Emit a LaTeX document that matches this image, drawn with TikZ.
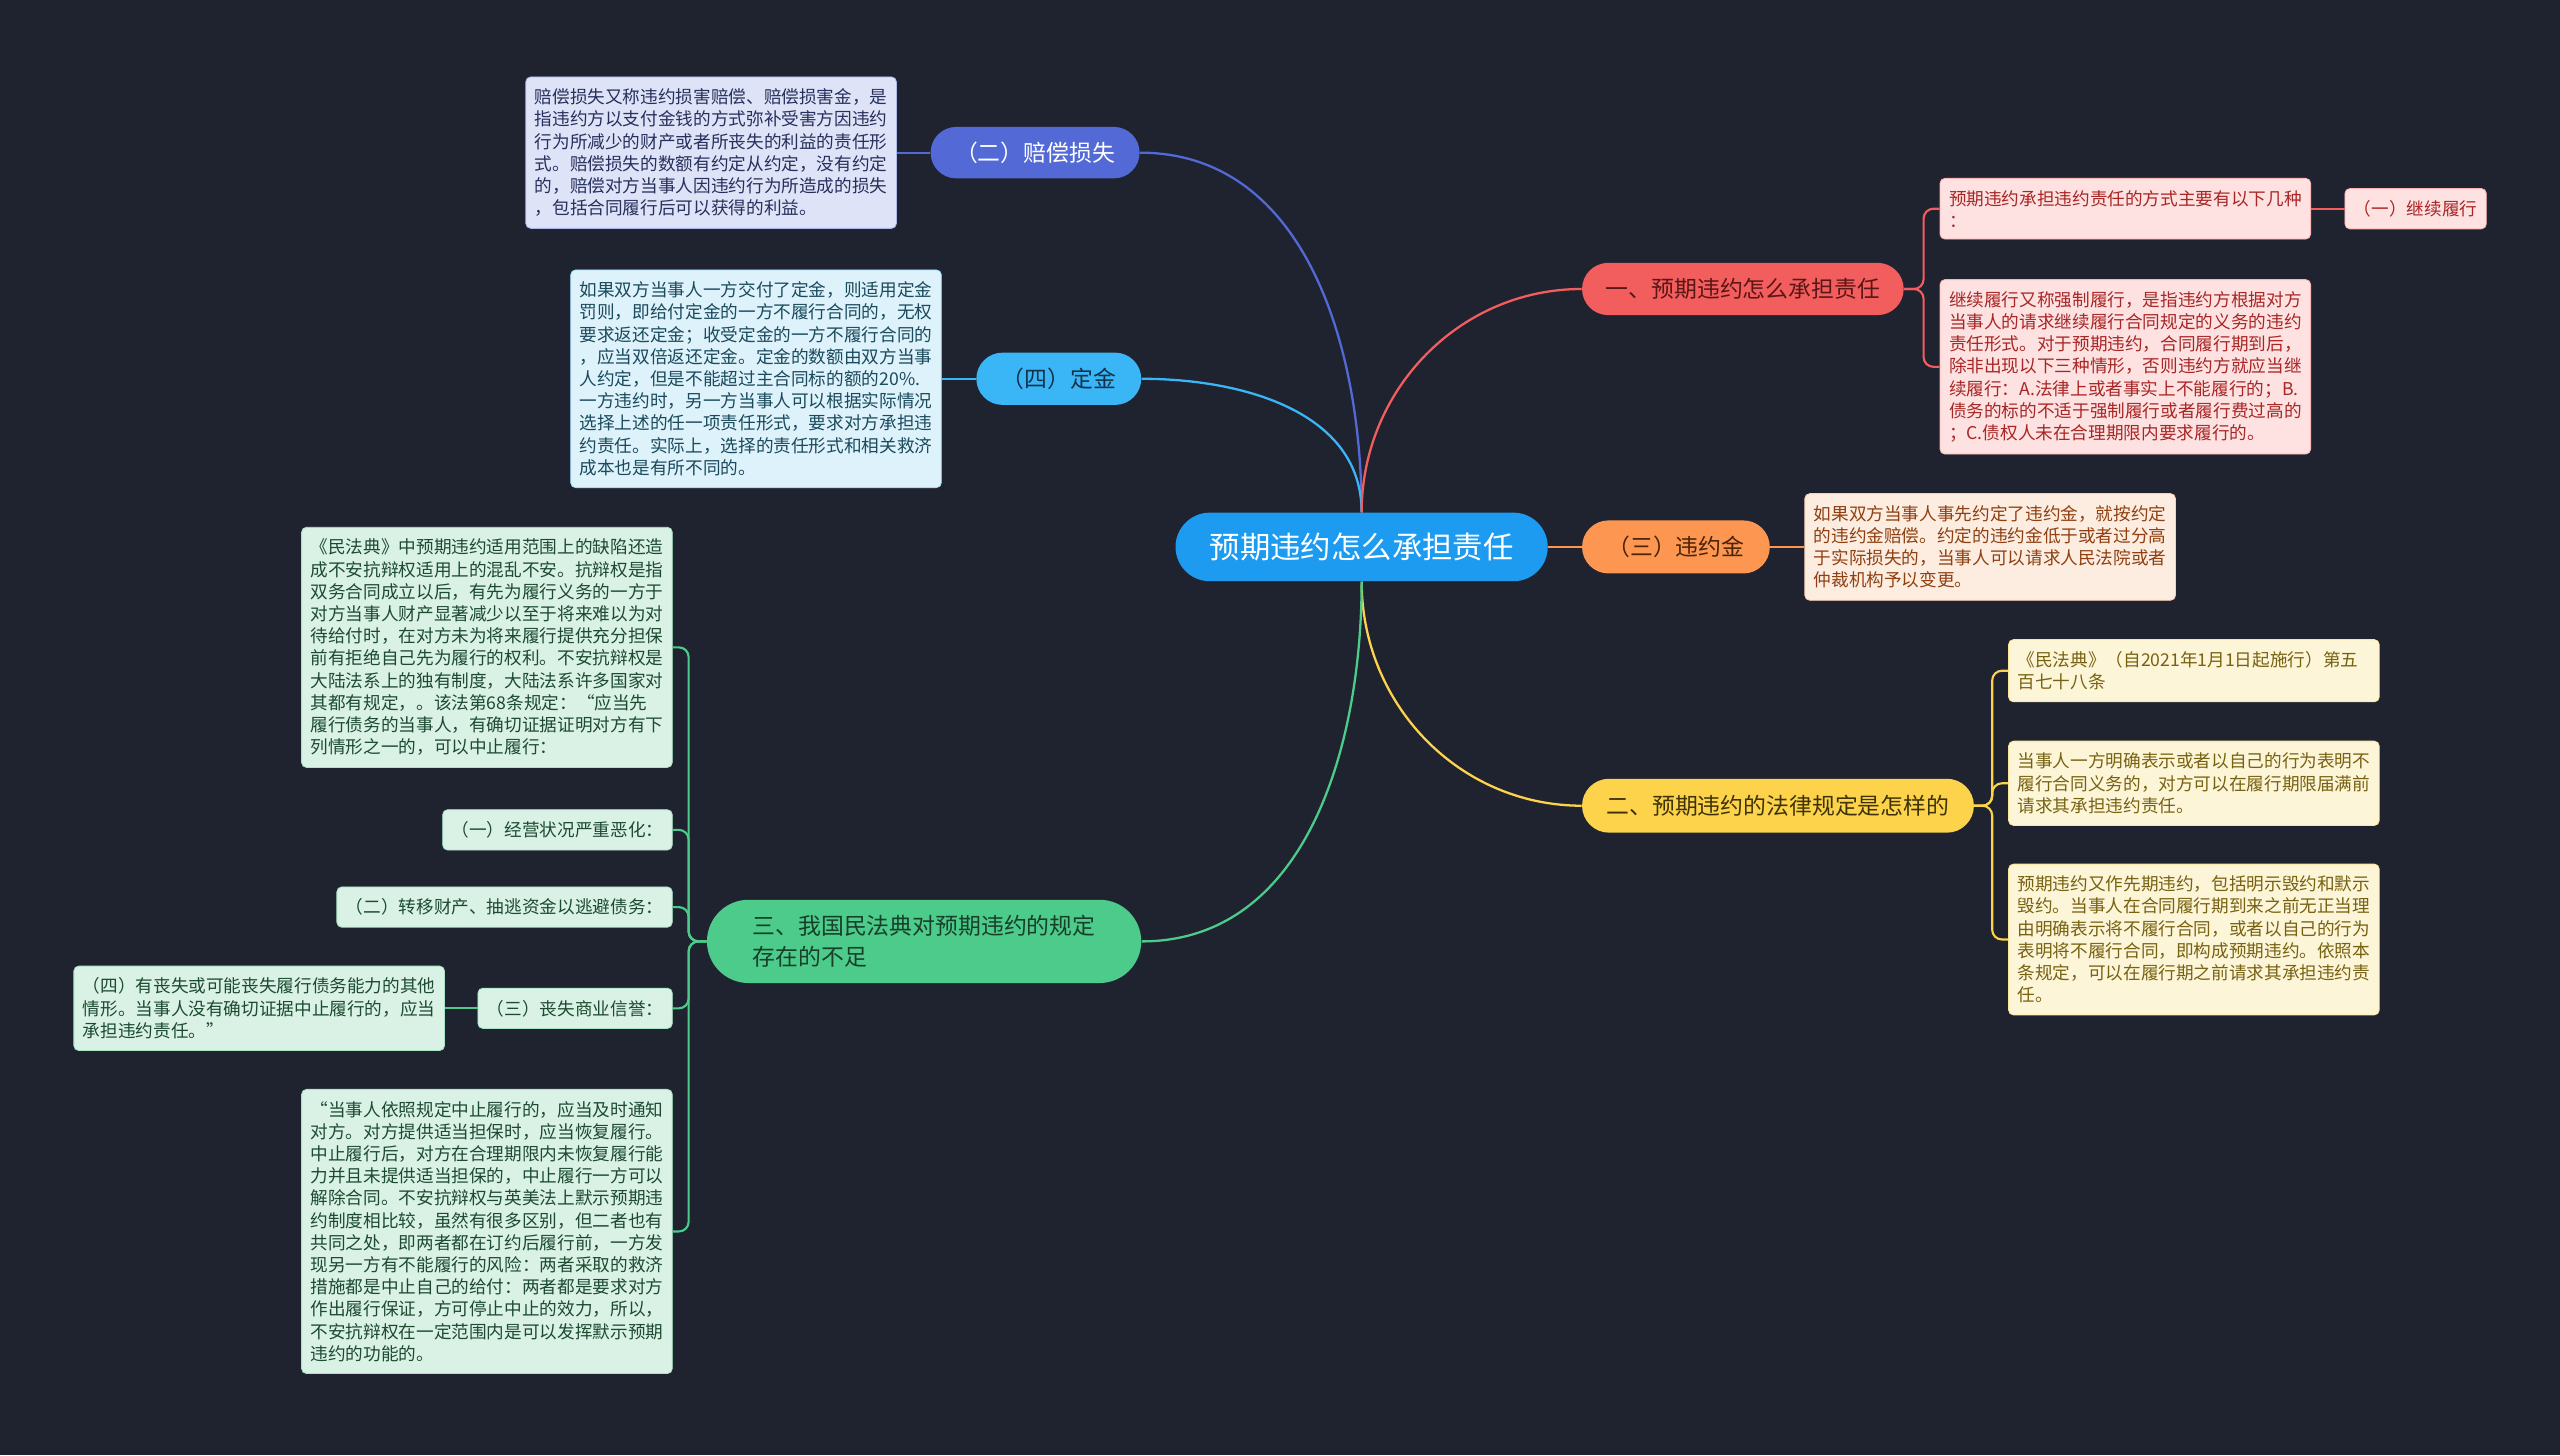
\documentclass[tikz,border=0pt]{standalone}
\usepackage{fontspec}
\setmainfont{Noto Sans CJK SC}
\usetikzlibrary{positioning}
\definecolor{canvas}{HTML}{1F2330}
\definecolor{rootblue}{HTML}{1D9BF0}
\definecolor{lossblue}{HTML}{5269D6}
\definecolor{losspale}{HTML}{DEE3F7}
\definecolor{lossink}{HTML}{27305C}
\definecolor{depositsky}{HTML}{3AB5F6}
\definecolor{depositpale}{HTML}{DDF2FB}
\definecolor{depositink}{HTML}{1A4A5C}
\definecolor{depositdark}{HTML}{12324A}
\definecolor{dutyred}{HTML}{F25E5E}
\definecolor{dutypale}{HTML}{FDE2E1}
\definecolor{dutyink}{HTML}{A82626}
\definecolor{dutydark}{HTML}{5A1515}
\definecolor{penaltyorange}{HTML}{FD9651}
\definecolor{penaltypale}{HTML}{FDEDE1}
\definecolor{penaltyink}{HTML}{8F3F10}
\definecolor{penaltydark}{HTML}{4A2308}
\definecolor{ruleyellow}{HTML}{FCD34B}
\definecolor{rulepale}{HTML}{FDF5D7}
\definecolor{ruleink}{HTML}{776212}
\definecolor{ruledark}{HTML}{3E3307}
\definecolor{gapgreen}{HTML}{4CCB8B}
\definecolor{gappale}{HTML}{D9F2E5}
\definecolor{gapink}{HTML}{1D4A31}
\definecolor{gapdark}{HTML}{173F29}
\tikzset{
  topic/.style={inner sep=0pt, align=center, font=\fontsize{14}{19.3}\selectfont},
  leaf/.style={rounded corners=3pt, inner xsep=5.5pt, inner ysep=7.2pt, align=left,
    line width=0.5pt, font=\fontsize{10.8}{13.6}\selectfont},
  note/.style={leaf, text width=216pt},
  lossleaf/.style={fill=losspale, draw=lossblue!35!losspale, text=lossink},
  depositleaf/.style={fill=depositpale, draw=depositsky!35!depositpale, text=depositink},
  dutyleaf/.style={fill=dutypale, draw=dutyred!35!dutypale, text=dutyink},
  penaltyleaf/.style={fill=penaltypale, draw=penaltyorange!35!penaltypale, text=penaltyink},
  ruleleaf/.style={fill=rulepale, draw=ruleyellow!45!rulepale, text=ruleink},
  gapleaf/.style={fill=gappale, draw=gapgreen!35!gappale, text=gapink},
  link/.style={line width=1.4pt},
  bracket/.style={line width=1.3pt, rounded corners=6pt}
}

\begin{document}
\begin{tikzpicture}[x=1pt,y=-1pt]
\fill[canvas] (0,0) rectangle (1568,891.2);
\useasboundingbox (0,0) rectangle (1568,891.2);

\node[topic, fill=rootblue, text=white, minimum width=228pt, minimum height=42pt,
  rounded corners=21pt, font=\fontsize{18.6}{22}\selectfont] (root) at (834,335) {预期违约怎么承担责任};

\node[topic, fill=lossblue, text=white, minimum width=128pt, minimum height=31.5pt,
  rounded corners=15.7pt] (damages) at (634,93.5) {（二）赔偿损失};
\node[note, lossleaf, left=20.5pt of damages] (damagesnote) {赔偿损失又称违约损害赔偿、赔偿损害金，是\\
指违约方以支付金钱的方式弥补受害方因违约\\
行为所减少的财产或者所丧失的利益的责任形\\
式。赔偿损失的数额有约定从约定，没有约定\\
的，赔偿对方当事人因违约行为所造成的损失\\
，包括合同履行后可以获得的利益。};

\node[topic, fill=depositsky, text=depositdark, minimum width=101pt, minimum height=32pt,
  rounded corners=16pt] (deposit) at (648.5,232) {（四）定金};
\node[note, depositleaf, left=21pt of deposit] (depositnote) {如果双方当事人一方交付了定金，则适用定金\\
罚则，即给付定金的一方不履行合同的，无权\\
要求返还定金；收受定金的一方不履行合同的\\
，应当双倍返还定金。定金的数额由双方当事\\
人约定，但是不能超过主合同标的额的20\%.\\
一方违约时，另一方当事人可以根据实际情况\\
选择上述的任一项责任形式，要求对方承担违\\
约责任。实际上，选择的责任形式和相关救济\\
成本也是有所不同的。};

\node[topic, fill=dutyred, text=dutydark, minimum width=197pt, minimum height=32pt,
  rounded corners=16pt] (howto) at (1067.5,177) {一、预期违约怎么承担责任};
\node[note, dutyleaf, anchor=north west] (howtoways) at (1188,109) {预期违约承担违约责任的方式主要有以下几种\\
：};
\node[leaf, dutyleaf, right=20.5pt of howtoways] (continued) {（一）继续履行};
\node[note, dutyleaf, anchor=north west] (howtonote) at (1188,171) {继续履行又称强制履行，是指违约方根据对方\\
当事人的请求继续履行合同规定的义务的违约\\
责任形式。对于预期违约，合同履行期到后，\\
除非出现以下三种情形，否则违约方就应当继\\
续履行：A.法律上或者事实上不能履行的；B.\\
债务的标的不适于强制履行或者履行费过高的\\
；C.债权人未在合理期限内要求履行的。};

\node[topic, fill=penaltyorange, text=penaltydark, minimum width=115pt, minimum height=32.5pt,
  rounded corners=16.2pt] (penalty) at (1026.5,335) {（三）违约金};
\node[note, penaltyleaf, right=21pt of penalty] (penaltynote) {如果双方当事人事先约定了违约金，就按约定\\
的违约金赔偿。约定的违约金低于或者过分高\\
于实际损失的，当事人可以请求人民法院或者\\
仲裁机构予以变更。};

\node[topic, fill=ruleyellow, text=ruledark, minimum width=240pt, minimum height=33pt,
  rounded corners=16.5pt] (lawrule) at (1089,493.5) {二、预期违约的法律规定是怎样的};
\node[note, ruleleaf, anchor=north west] (ruleart) at (1230,391.5) {《民法典》（自2021年1月1日起施行）第五\\
百七十八条};
\node[note, ruleleaf, anchor=north west] (rulestate) at (1230,453.7) {当事人一方明确表示或者以自己的行为表明不\\
履行合同义务的，对方可以在履行期限届满前\\
请求其承担违约责任。};
\node[note, ruleleaf, anchor=north west] (ruledef) at (1230,529) {预期违约又作先期违约，包括明示毁约和默示\\
毁约。当事人在合同履行期到来之前无正当理\\
由明确表示将不履行合同，或者以自己的行为\\
表明将不履行合同，即构成预期违约。依照本\\
条规定，可以在履行期之前请求其承担违约责\\
任。};

\node[topic, fill=gapgreen, text=gapdark, minimum width=266pt, minimum height=51pt,
  rounded corners=25.5pt, align=left] (defects) at (566,576.6) {三、我国民法典对预期违约的规定\\存在的不足};
\node[note, gapleaf, anchor=north east] (defectsintro) at (412,322.7) {《民法典》中预期违约适用范围上的缺陷还造\\
成不安抗辩权适用上的混乱不安。抗辩权是指\\
双务合同成立以后，有先为履行义务的一方于\\
对方当事人财产显著减少以至于将来难以为对\\
待给付时，在对方未为将来履行提供充分担保\\
前有拒绝自己先为履行的权利。不安抗辩权是\\
大陆法系上的独有制度，大陆法系许多国家对\\
其都有规定，。该法第68条规定：“应当先\\
履行债务的当事人，有确切证据证明对方有下\\
列情形之一的，可以中止履行：};
\node[leaf, gapleaf, anchor=north east] (caseone) at (412,495.7) {（一）经营状况严重恶化：};
\node[leaf, gapleaf, anchor=north east] (casetwo) at (412,543) {（二）转移财产、抽逃资金以逃避债务：};
\node[leaf, gapleaf, anchor=north east] (casethree) at (412,605) {（三）丧失商业信誉：};
\node[note, gapleaf, left=20pt of casethree] (casefour) {（四）有丧失或可能丧失履行债务能力的其他\\
情形。当事人没有确切证据中止履行的，应当\\
承担违约责任。”};
\node[note, gapleaf, anchor=north east] (defectsend) at (412,667) {“当事人依照规定中止履行的，应当及时通知\\
对方。对方提供适当担保时，应当恢复履行。\\
中止履行后，对方在合理期限内未恢复履行能\\
力并且未提供适当担保的，中止履行一方可以\\
解除合同。不安抗辩权与英美法上默示预期违\\
约制度相比较，虽然有很多区别，但二者也有\\
共同之处，即两者都在订约后履行前，一方发\\
现另一方有不能履行的风险：两者采取的救济\\
措施都是中止自己的给付：两者都是要求对方\\
作出履行保证，方可停止中止的效力，所以，\\
不安抗辩权在一定范围内是可以发挥默示预期\\
违约的功能的。};

\draw[link, lossblue] (root.north) to[out=90,in=0] (damages.east);
\draw[link, depositsky] (root.north) to[out=90,in=0] (deposit.east);
\draw[link, dutyred] (root.north) to[out=90,in=180] (howto.west);
\draw[link, penaltyorange] (root.east) -- (penalty.west);
\draw[link, ruleyellow] (root.south) to[out=-90,in=180] (lawrule.west);
\draw[link, gapgreen] (root.south) to[out=-90,in=0] (defects.east);

\draw[link, lossblue] (damages.west) -- (damagesnote.east);
\draw[link, depositsky] (deposit.west) -- (depositnote.east);
\draw[link, penaltyorange] (penalty.east) -- (penaltynote.west);
\draw[link, dutyred] (howtoways.east) -- (continued.west);
\draw[link, gapgreen] (casethree.west) -- (casefour.east);

\draw[bracket, dutyred] (howto.east) -- ++(12,0) |- (howtoways.west);
\draw[bracket, dutyred] (howto.east) -- ++(12,0) |- (howtonote.west);
\draw[bracket, ruleyellow] (lawrule.east) -- ++(11,0) |- (ruleart.west);
\draw[bracket, ruleyellow] (lawrule.east) -- ++(11,0) |- (rulestate.west);
\draw[bracket, ruleyellow] (lawrule.east) -- ++(11,0) |- (ruledef.west);
\draw[bracket, gapgreen] (defects.west) -- ++(-11,0) |- (defectsintro.east);
\draw[bracket, gapgreen] (defects.west) -- ++(-11,0) |- (caseone.east);
\draw[bracket, gapgreen] (defects.west) -- ++(-11,0) |- (casetwo.east);
\draw[bracket, gapgreen] (defects.west) -- ++(-11,0) |- (casethree.east);
\draw[bracket, gapgreen] (defects.west) -- ++(-11,0) |- (defectsend.east);
\end{tikzpicture}
\end{document}
